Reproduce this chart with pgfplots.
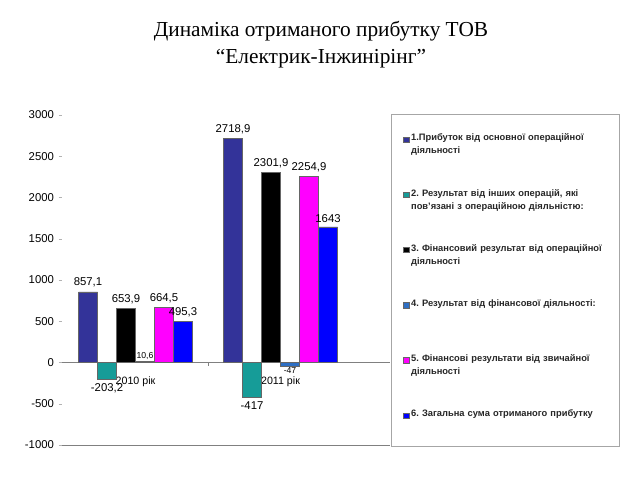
\documentclass[border=0pt]{standalone}
\usepackage{pgfplots}
\pgfplotsset{compat=1.18}
\usepackage{fontspec}
\setmainfont{Liberation Sans}
\newfontfamily\titlefont{Liberation Serif}
\frenchspacing
\definecolor{c1}{HTML}{333399}
\definecolor{c2}{HTML}{169C98}
\definecolor{c3}{HTML}{000000}
\definecolor{c4}{HTML}{2E6FC4}
\definecolor{c5}{HTML}{FF00FF}
\definecolor{c6}{HTML}{0000FF}
\begin{document}
\begin{tikzpicture}
\path[use as bounding box] (0,0) rectangle (480pt,360pt);
\node[align=center, font=\titlefont\fontsize{16}{20.25}\selectfont] at (240.75pt,326.2pt) {Динаміка отриманого прибутку ТОВ\\“Електрик-Інжинірінг”};
\begin{axis}[
  at={(46.5pt,26.25pt)}, anchor=south west,
  scale only axis, width=246pt, height=247.5pt,
  ybar=0pt, bar width=14.25pt,
  xmin=-0.507, xmax=1.755, ymin=-1000, ymax=3000,
  clip=false,
  xtick={0,1}, xticklabels={2010 рік,2011 рік},
  x tick style={draw=none},
  x tick label style={font=\fontsize{8}{9}\selectfont, yshift=57pt},
  ytick={-1000,-500,...,3000},
  y tick label style={font=\fontsize{8.5}{10}\selectfont},
  ytick pos=left, tick align=outside, major tick length=2.5pt,
  y tick style={gray!60},
  axis line style={draw=none},
  extra y ticks={-1000,0}, extra y tick labels={},
  extra y tick style={grid=major, major grid style={gray, line width=0.6pt}, tick style={draw=none}},
  /pgf/number format/use comma,
  /pgf/number format/1000 sep={},
  /pgf/number format/fixed,
  /pgf/number format/precision=1,
  /pgf/number format/assume math mode=true,
  nodes near coords,
  nodes near coords style={font=\fontsize{8.5}{10}\selectfont, text=black},
  legend cell align=left,
  legend image code/.code={\fill[#1] (0pt,0pt) rectangle (4pt,4pt);},
  legend style={at={(1.003,1.003)}, anchor=north west, draw=gray!70, fill=white,
    inner xsep=9pt, inner ysep=11.5pt, row sep=22.4pt,
    font=\fontsize{7}{9.75}\selectfont\bfseries, text=black!85,
    nodes={text width=145.5pt, align=left, text height=7pt, text depth=9pt, inner sep=1.5pt}},
]
\addplot[fill=c1, draw=black!60] coordinates {(0,857.1) (1,2718.9)};
\addlegendentry{1.Прибуток від основної операційної\\діяльності}
\addplot[fill=c2, draw=black!60] coordinates {(0,-203.2) (1,-417)};
\addlegendentry{2. Результат від інших операцій, які\\пов’язані з операційною діяльністю:}
\addplot[fill=c3, draw=black!60] coordinates {(0,653.9) (1,2301.9)};
\addlegendentry{3. Фінансовий результат від операційної\\діяльності}
\addplot[fill=c4, draw=black!60,
  every node near coord/.append style={font=\fontsize{6.5}{7}\selectfont, inner sep=1pt}]
  coordinates {(0,10.6) (1,-47)};
\addlegendentry{4. Результат від фінансової діяльності:}
\addplot[fill=c5, draw=black!60] coordinates {(0,664.5) (1,2254.9)};
\addlegendentry{5. Фінансові результати від звичайної\\діяльності}
\addplot[fill=c6, draw=black!60] coordinates {(0,495.3) (1,1643)};
\addlegendentry{6. Загальна сума отриманого прибутку}
\draw[gray] (axis cs:0.5,0) -- (axis cs:0.5,-45);
\end{axis}
\end{tikzpicture}
\end{document}
